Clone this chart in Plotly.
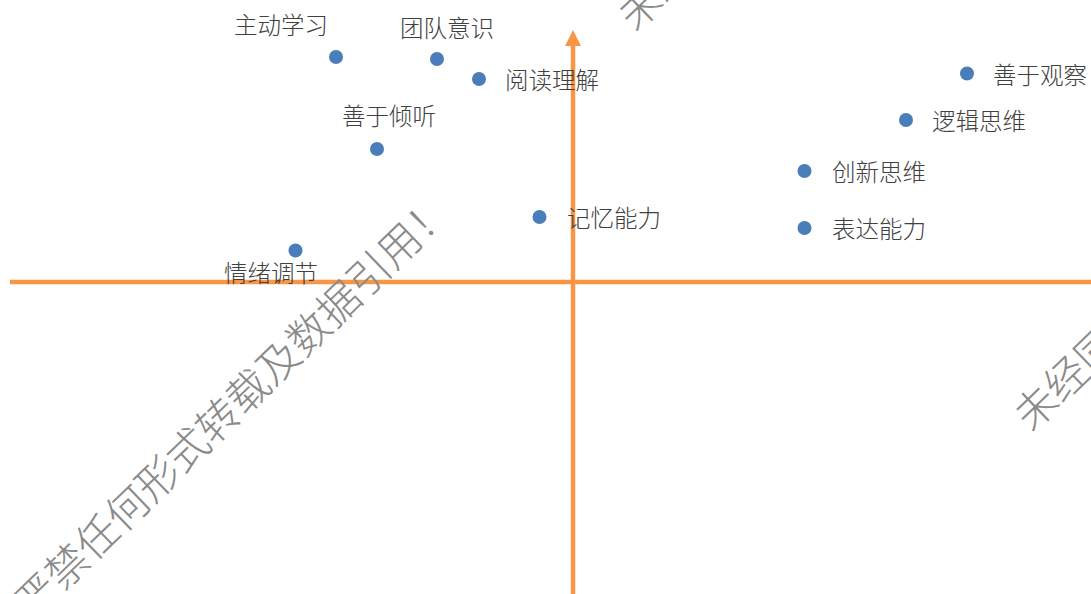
import plotly.graph_objects as go

# ---- data ----
skills = ["主动学习", "团队意识", "阅读理解", "善于倾听", "记忆能力", "情绪调节",
          "善于观察", "逻辑思维", "创新思维", "表达能力"]
x_vals = [-4.74, -2.72, -1.88, -3.92, -0.67, -5.55, 7.88, 6.66, 4.63, 4.63]
y_vals = [4.50, 4.46, 4.06, 2.66, 1.30, 0.63, 4.17, 3.24, 2.22, 1.08]
watermark_text = "未经同意，严禁任何形式转载及数据引用！"

# ---- styles ----
W, H = 1091, 594
X_RANGE = [-11.46, 10.36]
Y_RANGE = [-6.24, 5.64]
ORANGE = "#F79646"
BLUE = "#4A7EBB"
LABEL_COLOR = "#404040"
FONT = "Noto Sans CJK SC"

# label offsets (px) relative to their points: (xshift, yshift)
label_offsets = {
    "主动学习": (-55, 33), "团队意识": (10, 32), "阅读理解": (73, 0),
    "善于倾听": (12, 34), "记忆能力": (74, 0), "情绪调节": (-25, -21),
    "善于观察": (73, 0), "逻辑思维": (73, 0), "创新思维": (74, 0), "表达能力": (74, 0),
}

px_per_x = W / (X_RANGE[1] - X_RANGE[0])
px_per_y = H / (Y_RANGE[1] - Y_RANGE[0])

fig = go.Figure()

# axes (decoration)
fig.add_shape(type="line", xref="x", yref="y",
              x0=X_RANGE[0] + 10 / px_per_x, x1=X_RANGE[1] + 1, y0=0, y1=0,
              line=dict(color=ORANGE, width=4.5), layer="below")
arrow_base = Y_RANGE[1] - 46 / px_per_y
arrow_tip = Y_RANGE[1] - 30 / px_per_y
half_w = 8 / px_per_x
fig.add_shape(type="line", xref="x", yref="y",
              x0=0, x1=0, y0=Y_RANGE[0] - 1, y1=arrow_base + 0.02,
              line=dict(color=ORANGE, width=4.5), layer="below")
fig.add_shape(type="path", xref="x", yref="y",
              path=f"M {-half_w} {arrow_base} L {half_w} {arrow_base} L 0 {arrow_tip} Z",
              fillcolor=ORANGE, line=dict(color=ORANGE, width=0), layer="below")

fig.add_trace(go.Scatter(
    x=x_vals, y=y_vals, mode="markers",
    marker=dict(size=14, color=BLUE, line=dict(width=0)),
    cliponaxis=False, hoverinfo="text", text=skills, showlegend=False,
))

for name, xv, yv in zip(skills, x_vals, y_vals):
    dx, dy = label_offsets[name]
    fig.add_annotation(x=xv, y=yv, xref="x", yref="y", text=name, showarrow=False,
                       xanchor="center", yanchor="middle", xshift=dx, yshift=dy,
                       font=dict(family=FONT, size=23.5, color=LABEL_COLOR, weight=300))

# watermark instances (paper coords, centre of string)
for cx, cy in [(155, 476), (909, -258), (1306, 143)]:
    fig.add_annotation(x=cx / W, y=1 - cy / H, xref="paper", yref="paper",
                       text=watermark_text, showarrow=False, textangle=-44,
                       xanchor="center", yanchor="middle",
                       font=dict(family=FONT, size=42, color="#8a8a8a", weight=300))

fig.update_layout(
    width=W, height=H, autosize=False,
    margin=dict(l=0, r=0, t=0, b=0),
    paper_bgcolor="white", plot_bgcolor="white",
    xaxis=dict(range=X_RANGE, visible=False, fixedrange=True),
    yaxis=dict(range=Y_RANGE, visible=False, fixedrange=True),
    showlegend=False,
)

fig.write_html("out.html", config={"displayModeBar": False},
               post_script="document.body.style.margin='0';document.body.style.overflow='hidden';")
